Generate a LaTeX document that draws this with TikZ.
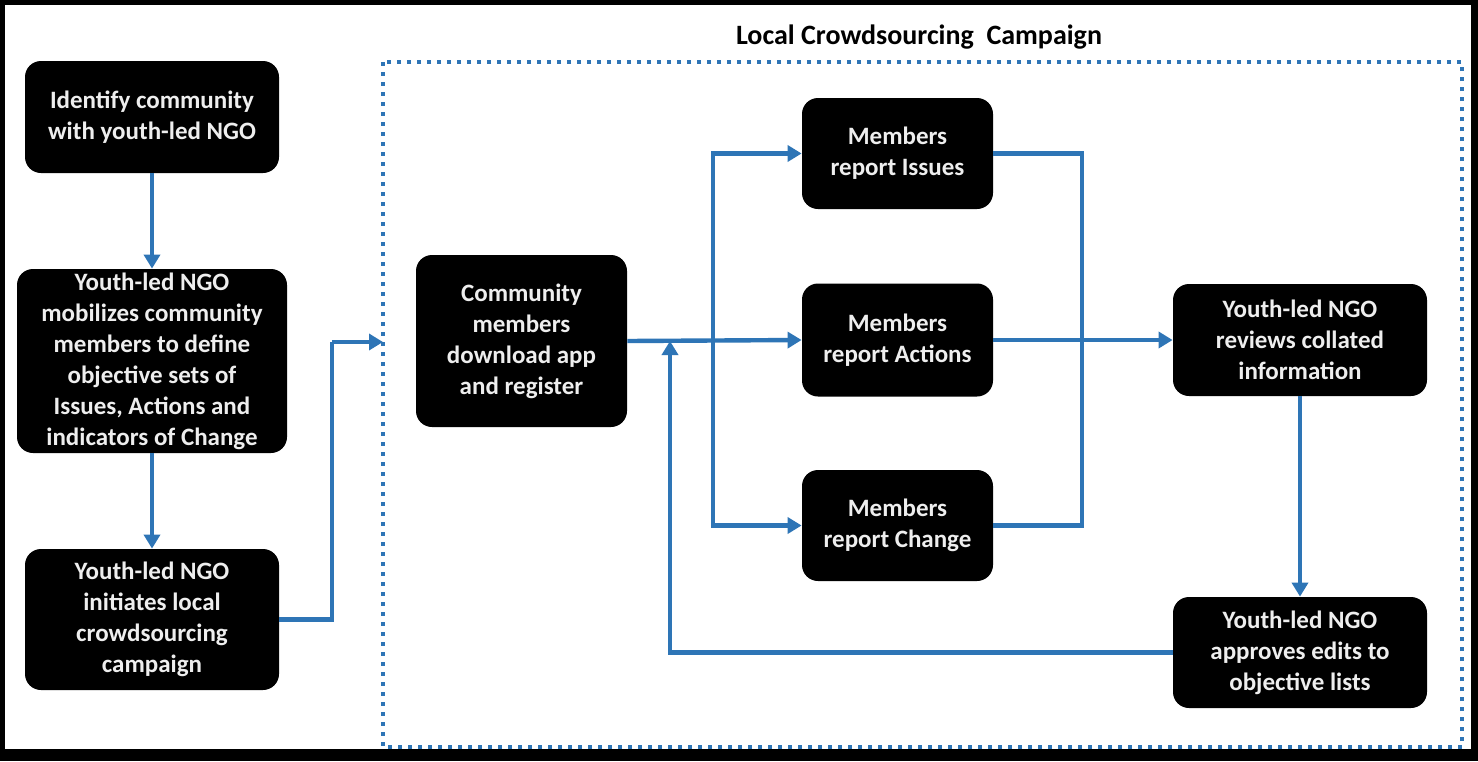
\documentclass[tikz,border=0pt]{standalone}
\usepackage{fontspec}
\setmainfont{Carlito}
\usetikzlibrary{arrows.meta}
\definecolor{lineblue}{RGB}{46,117,182}
\definecolor{boxtext}{RGB}{238,238,238}
\tikzset{
  stepbox/.style={rectangle, rounded corners=8pt, fill=black, draw=none, text=boxtext,
    font=\fontsize{12.5}{15.5}\selectfont\bfseries, align=center, inner sep=0pt},
  conn/.style={draw=lineblue, line width=2.2pt},
  arr/.style={conn, -{Triangle[length=7pt,width=8pt]}},
  titlelbl/.style={font=\fontsize{14}{17}\selectfont\bfseries, text=black, inner sep=0pt}
}
\begin{document}
\begin{tikzpicture}[x=0.5pt,y=-0.5pt]
\useasboundingbox (0,0) rectangle (1478,761);
\fill[black] (0,0) rectangle (1478,761);
\fill[white] (5,5) rectangle (1471,749);
% campaign frame
\draw[draw=lineblue, line width=2pt, dash pattern=on 2pt off 3pt] (383,62) rectangle (1462,747);
\node[titlelbl] (title) at (919,37) {Local Crowdsourcing\ \ Campaign};
% nodes
\node[stepbox, minimum width=127pt, minimum height=56pt] (n1) at (152,117) {Identify community\\with youth-led NGO};
\node[stepbox, minimum width=135pt, minimum height=92pt] (n2) at (152,361) {Youth-led NGO\\mobilizes community\\members to define\\objective sets of\\Issues, Actions and\\indicators of Change};
\node[stepbox, minimum width=127pt, minimum height=70.5pt] (n3) at (152,619.5) {Youth-led NGO\\initiates local\\crowdsourcing\\campaign};
\node[stepbox, minimum width=105.5pt, minimum height=86pt] (n4) at (521.5,341) {Community\\members\\download app\\and register};
\node[stepbox, minimum width=95.5pt, minimum height=55.5pt] (n5) at (897.5,153.5) {Members\\report Issues};
\node[stepbox, minimum width=95.5pt, minimum height=56.5pt] (n6) at (897.5,340) {Members\\report Actions};
\node[stepbox, minimum width=95.5pt, minimum height=55.5pt] (n7) at (897.5,525.5) {Members\\report Change};
\node[stepbox, minimum width=127pt, minimum height=56pt] (n8) at (1300,340) {Youth-led NGO\\reviews collated\\information};
\node[stepbox, minimum width=127pt, minimum height=55.5pt] (n9) at (1300,652.5) {Youth-led NGO\\approves edits to\\objective lists};
% helper coordinates
\coordinate (bend) at (332,342);
\coordinate (boxin) at (383,342);
\coordinate (sp) at (713,340);
\coordinate (mg) at (1082,340);
\coordinate (fb) at (670,341);
% connectors
\draw[arr] (n1.south) -- (n2.north);
\draw[arr] (n2.south) -- (n3.north);
\draw[conn] (n3.east) -| (bend);
\draw[arr] (bend) -- (boxin);
\draw[arr] (n4.east) -- (n6.west);
\draw[arr] (sp) |- (n5.west);
\draw[arr] (sp) |- (n7.west);
\draw[conn] (n5.east) -| (mg);
\draw[conn] (n7.east) -| (mg);
\draw[arr] (n6.east) -- (n8.west);
\draw[arr] (n8.south) -- (n9.north);
\draw[arr] (n9.west) -| (fb);
\end{tikzpicture}
\end{document}
